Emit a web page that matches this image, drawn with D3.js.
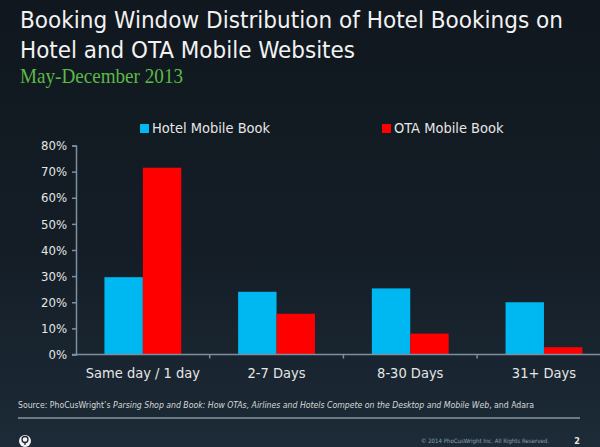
<!DOCTYPE html>
<html><head><meta charset="utf-8">
<script src="https://cdn.jsdelivr.net/npm/d3@7/dist/d3.min.js"></script>
<style>html,body{margin:0;padding:0;background:#131b23;}svg{display:block;}</style>
</head><body>
<script>
const categories = ["Same day / 1 day", "2-7 Days", "8-30 Days", "31+ Days"];
const seriesNames = ["Hotel Mobile Book", "OTA Mobile Book"];
const hotelValues = [29.6, 24.0, 25.3, 20.0];
const otaValues = [71.5, 15.6, 8.0, 2.8];
const yTicks = [0, 10, 20, 30, 40, 50, 60, 70, 80];
const colors = ["#00b8f1", "#ff0000"];

const W = 600, H = 447;
const svg = d3.select("body").append("svg").attr("width", W).attr("height", H);
const defs = svg.append("defs");
const grad = defs.append("linearGradient").attr("id", "bg").attr("x1", 0).attr("y1", 0).attr("x2", 0).attr("y2", 1);
grad.append("stop").attr("offset", "0%").attr("stop-color", "#10171e");
grad.append("stop").attr("offset", "55%").attr("stop-color", "#141d26");
grad.append("stop").attr("offset", "100%").attr("stop-color", "#1c2b37");
svg.append("rect").attr("width", W).attr("height", H).attr("fill", "url(#bg)");

const FONT = "DejaVu Sans Condensed, DejaVu Sans";
// Title
svg.append("text").attr("x", 20).attr("y", 28).text("Booking Window Distribution of Hotel Bookings on")
  .attr("fill", "#f2f2f2").attr("font-family", FONT).attr("font-size", 23)
  .attr("textLength", 543).attr("lengthAdjust", "spacingAndGlyphs");
svg.append("text").attr("x", 20).attr("y", 58).text("Hotel and OTA Mobile Websites")
  .attr("fill", "#f2f2f2").attr("font-family", FONT).attr("font-size", 23)
  .attr("textLength", 335).attr("lengthAdjust", "spacingAndGlyphs");
svg.append("text").attr("x", 20).attr("y", 83).text("May-December 2013")
  .attr("fill", "#5cb946").attr("font-family", "Liberation Serif, DejaVu Serif").attr("font-size", 21)
  .attr("textLength", 163).attr("lengthAdjust", "spacingAndGlyphs");

// Scales
const x0 = d3.scaleBand().domain(categories).range([76, 76 + 133.7 * 4]).paddingInner(0).paddingOuter(0);
const x1 = d3.scaleBand().domain(seriesNames).range([0, x0.bandwidth()]).paddingInner(0).paddingOuter(0.74);
const y = d3.scaleLinear().domain([0, 80]).range([354.5, 145.5]);

// Bars
const rows = categories.map((c, i) => ({cat: c, vals: [hotelValues[i], otaValues[i]]}));
const g = svg.append("g");
g.selectAll("g.cat").data(rows).join("g").attr("class", "cat")
  .attr("transform", d => `translate(${x0(d.cat)},0)`)
  .selectAll("rect").data(d => d.vals.map((v, k) => ({name: seriesNames[k], v, k})))
  .join("rect")
  .attr("x", d => x1(d.name)).attr("width", x1.bandwidth())
  .attr("y", d => y(d.v)).attr("height", d => y(0) - y(d.v))
  .attr("fill", d => colors[d.k]);

// Y axis
const yAxis = svg.append("g").attr("transform", "translate(76,0)")
  .call(d3.axisLeft(y).tickValues(yTicks).tickFormat(d => d + "%").tickSize(4).tickPadding(5));
yAxis.select(".domain").attr("stroke", "#7d8fa0").attr("stroke-width", 1.5);
yAxis.selectAll(".tick line").attr("stroke", "#7d8fa0").attr("stroke-width", 1.5);
yAxis.selectAll(".tick text").attr("fill", "#e6e6e6").attr("font-family", FONT).attr("font-size", 13);

// X axis
const xAxis = svg.append("g").attr("transform", `translate(0,${y(0)})`)
  .call(d3.axisBottom(x0).tickSize(0).tickPadding(13));
xAxis.select(".domain").remove();
svg.append("line").attr("x1", 72).attr("x2", 600).attr("y1", y(0)).attr("y2", y(0)).attr("stroke", "#7d8fa0").attr("stroke-width", 1.5);
svg.append("g").selectAll("line").data(categories.slice(1)).join("line")
  .attr("x1", d => x0(d)).attr("x2", d => x0(d)).attr("y1", y(0)).attr("y2", y(0) + 4)
  .attr("stroke", "#7d8fa0").attr("stroke-width", 1.5);
xAxis.selectAll(".tick text").attr("fill", "#e6e6e6").attr("font-family", FONT).attr("font-size", 14.5);

// Legend
const legendX = [140, 382];
const leg = svg.append("g");
seriesNames.forEach((n, k) => {
  leg.append("rect").attr("x", legendX[k]).attr("y", 124).attr("width", 9).attr("height", 9).attr("fill", colors[k]);
  leg.append("text").attr("x", legendX[k] + 12).attr("y", 133).text(n)
    .attr("fill", "#e6e6e6").attr("font-family", FONT).attr("font-size", 14.5);
});

// Source and footer
svg.append("text").attr("x", 18).attr("y", 408)
  .attr("fill", "#d8d8d8").attr("font-family", FONT).attr("font-size", 8.5)
  .attr("textLength", 516).attr("lengthAdjust", "spacingAndGlyphs")
  .html('Source: PhoCusWright\u2019s <tspan font-style="italic">Parsing Shop and Book: How OTAs, Airlines and Hotels Compete on the Desktop and Mobile Web</tspan>, and Adara');
svg.append("line").attr("x1", 18).attr("x2", 580).attr("y1", 418).attr("y2", 418).attr("stroke", "#8a969f").attr("stroke-width", 1.5);
svg.append("circle").attr("cx", 25).attr("cy", 441).attr("r", 6).attr("fill", "#f2f2f2");
svg.append("circle").attr("cx", 25).attr("cy", 439.5).attr("r", 3).attr("fill", "none").attr("stroke", "#1a2733").attr("stroke-width", 1.3);
svg.append("line").attr("x1", 25).attr("x2", 25).attr("y1", 442.5).attr("y2", 445).attr("stroke", "#1a2733").attr("stroke-width", 1.3);
svg.append("text").attr("x", 549).attr("y", 443).attr("text-anchor", "end").text("\u00a9 2014 PhoCusWright Inc. All Rights Reserved.")
  .attr("fill", "#8ea0b0").attr("font-family", FONT).attr("font-size", 6)
  .attr("textLength", 128).attr("lengthAdjust", "spacingAndGlyphs");
svg.append("text").attr("x", 580).attr("y", 444).attr("text-anchor", "end").text("2")
  .attr("fill", "#e6e6e6").attr("font-family", FONT).attr("font-size", 9).attr("font-weight", "bold");
</script>
</body></html>
